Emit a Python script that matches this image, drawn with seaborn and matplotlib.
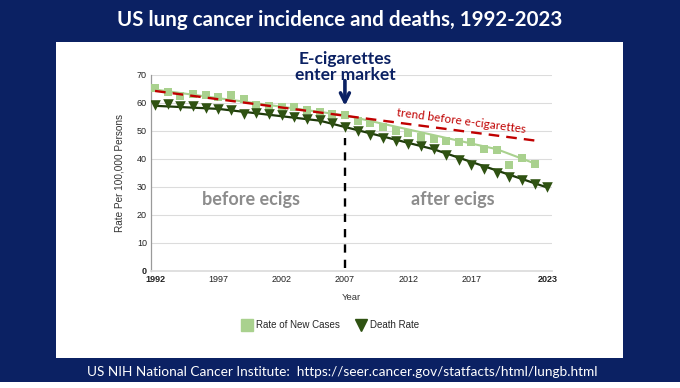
import numpy as np
import pandas as pd
import matplotlib
matplotlib.use("Agg")
import matplotlib.pyplot as plt
import seaborn as sns
from matplotlib.lines import Line2D
from matplotlib.patches import Rectangle

# observed rates per 100,000
years = list(range(1992, 2024))
new_case_years = list(range(1992, 2023))
new_cases = [65.2, 64.0, 62.4, 63.3, 62.9, 62.3, 62.7, 61.3, 59.4, 58.9, 58.6,
             58.4, 57.4, 56.8, 56.2, 55.6, 53.4, 52.8, 51.4, 50.0, 49.2, 47.8,
             47.2, 46.6, 46.0, 46.0, 43.6, 43.3, 37.7, 40.4, 38.3]
deaths = [59.4, 59.5, 59.1, 58.9, 58.3, 57.9, 57.5, 56.0, 56.4, 56.0, 55.6,
          55.1, 54.4, 54.0, 52.8, 51.6, 49.9, 48.5, 47.5, 46.6, 45.4, 44.5,
          43.6, 41.6, 39.8, 38.0, 36.5, 35.0, 33.6, 32.6, 31.2, 30.1]

# modelled trend lines (joinpoints)
new_trend_years = [1992, 2007, 2019, 2022]
new_trend = [64.8, 55.6, 43.5, 38.4]
death_trend_years = [1992, 1997, 2005, 2014, 2023]
death_trend = [59.0, 57.9, 53.7, 43.5, 29.8]
pre_trend_years = [1992, 2022.5]
pre_trend = [64.3, 46.3]

tick_years = [1992, 1997, 2002, 2007, 2012, 2017, 2023]
ecig_year = 2007

NAVY = "#0b2163"
LIGHT = "#a9d18e"
DARK = "#2f5212"
RED = "#c00000"
GREY = "#8c8c8c"

sns.set_theme(style="white")
plt.rcParams["font.family"] = ["Lato", "DejaVu Sans"]
narrow = ["Liberation Sans Narrow", "Liberation Sans", "DejaVu Sans"]

fig = plt.figure(figsize=(6.8, 3.88), dpi=100)
fig.patch.set_facecolor(NAVY)
# white panel and bottom strip
fig.add_artist(Rectangle((56 / 680, 1 - 358 / 388), 567 / 680, 316 / 388,
                         transform=fig.transFigure, facecolor="white", edgecolor="none", zorder=0))
fig.add_artist(Rectangle((0, 0), 1, 6 / 388, transform=fig.transFigure,
                         facecolor="white", edgecolor="none", zorder=0))

ax = fig.add_axes([151 / 680, 1 - 271 / 388, 401 / 680, 196 / 388])
ax.set_facecolor("white")

nc_df = pd.DataFrame({"year": new_case_years, "rate": new_cases})
d_df = pd.DataFrame({"year": years, "rate": deaths})

sns.lineplot(x=new_trend_years, y=new_trend, ax=ax, color=LIGHT, lw=1.5, zorder=2)
sns.lineplot(x=death_trend_years, y=death_trend, ax=ax, color="#1e3a0a", lw=1.6, zorder=2)
sns.scatterplot(data=nc_df, x="year", y="rate", ax=ax, marker="s", s=26,
                color=LIGHT, linewidth=0, zorder=3)
sns.scatterplot(data=d_df, x="year", y="rate", ax=ax, marker="v", s=58,
                color=DARK, linewidth=0, zorder=4)
sns.lineplot(x=pre_trend_years, y=pre_trend, ax=ax, color=RED, lw=1.7,
             dashes=False, zorder=5).lines[-1].set_dashes([4.5, 3])
ax.plot([ecig_year, ecig_year], [1, 47.5], color="black", lw=1.7,
        dashes=(3.5, 3), zorder=5)

ax.set_xlim(1991.68, 2023.36)
ax.set_ylim(0, 70)
ax.set_xticks(tick_years)
ax.set_yticks(range(0, 71, 10))
ax.grid(axis="y", color="#dcdcdc", lw=0.8)
ax.set_axisbelow(True)
for s in ["top", "right"]:
    ax.spines[s].set_visible(False)
ax.spines["bottom"].set_color("#dcdcdc")
ax.spines["left"].set_color("#9a9a9a")
ax.spines["left"].set_linewidth(0.9)
ax.tick_params(length=0, pad=3)
for lab in ax.get_xticklabels() + ax.get_yticklabels():
    lab.set_family(narrow)
    lab.set_fontsize(6.5)
    lab.set_color("#222222")
ax.get_xticklabels()[0].set_fontweight("bold")
ax.get_xticklabels()[-1].set_fontweight("bold")
ax.get_yticklabels()[0].set_fontweight("bold")
ax.set_xlabel("Year", family=narrow, fontsize=6.8, color="#333333", labelpad=6)
ax.set_ylabel("Rate Per 100,000 Persons", family=narrow, fontsize=7.2,
              color="#333333", labelpad=9)

ax.text(1999.6, 25.7, "before ecigs", ha="center", va="center", color=GREY,
        fontsize=13, fontweight="bold")
ax.text(2015.5, 25.4, "after ecigs", ha="center", va="center", color=GREY,
        fontsize=13, fontweight="bold")
ax.text(2016.2, 53.6, "trend before e-cigarettes", ha="center", va="center",
        color=RED, fontsize=8.5, rotation=-7.5)
ax.annotate("", xy=(ecig_year, 59.0), xytext=(ecig_year, 68.0),
            arrowprops=dict(arrowstyle="->", lw=2.6, color=NAVY, mutation_scale=16,
                            shrinkA=0, shrinkB=0),
            annotation_clip=False)

fig.text(345 / 680, 1 - 67 / 388, "E-cigarettes\nenter market", ha="center",
         va="center", color=NAVY, fontsize=12.5, fontweight="bold", linespacing=0.95)
fig.text(340 / 680, 1 - 20 / 388, "US lung cancer incidence and deaths, 1992-2023",
         ha="center", va="center", color="white", fontsize=14.8, fontweight="bold")
fig.text(342 / 680, 1 - 372 / 388,
         "US NIH National Cancer Institute:  https://seer.cancer.gov/statfacts/html/lungb.html",
         ha="center", va="center", color="white", fontsize=9.8)

handles = [Line2D([], [], marker="s", ls="none", color=LIGHT, markersize=8),
           Line2D([], [], marker="v", ls="none", color=DARK, markersize=9)]
fig.legend(handles, ["Rate of New Cases", "Death Rate"], loc="center",
           bbox_to_anchor=(330 / 680, 1 - 325 / 388), ncol=2, frameon=False,
           prop={"family": narrow, "size": 7}, handletextpad=0.3,
           columnspacing=1.6, handlelength=1.2)

fig.savefig("out.png", dpi=100, facecolor=NAVY)
